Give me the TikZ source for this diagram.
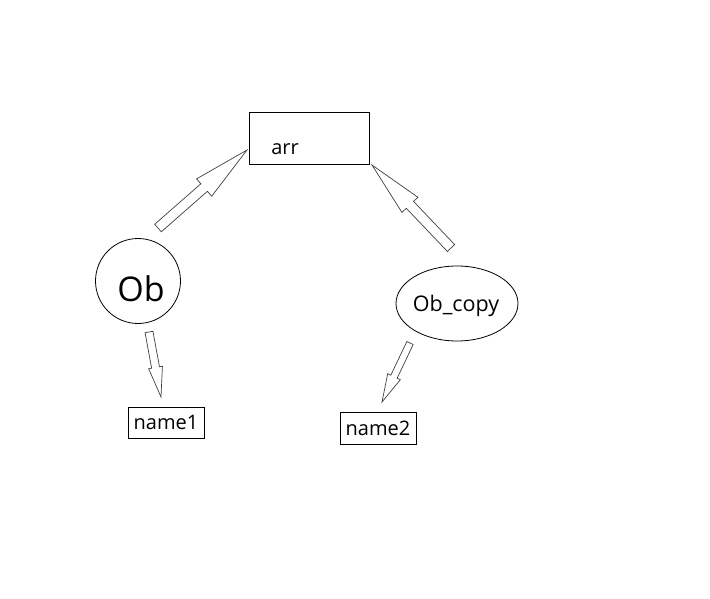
\documentclass[tikz,border=0pt]{standalone}
\usepackage{fontspec}
\setmainfont{Open Sans}
\usetikzlibrary{calc,shapes.geometric}

\tikzset{
	box/.style={draw, line width=0.8pt, inner sep=0pt},
	hollow/.style={draw=black!75, line width=0.7pt, line join=miter, fill=white},
	txt/.style={font=\fontsize{20}{24}\selectfont, inner sep=0pt},
}
% block arrow: tail, tip, half shaft, half head, head length
\newcommand{\blockarrow}[5]{%
	\coordinate (hb) at ($(#2)!#5!(#1)$);
	\draw[hollow] ($(#1)!#3!90:(#2)$) -- ($(hb)!#3!90:(#2)$) -- ($(hb)!#4!90:(#2)$) -- (#2)
		-- ($(hb)!#4!-90:(#2)$) -- ($(hb)!#3!-90:(#2)$) -- ($(#1)!#3!-90:(#2)$) -- cycle;
}

\begin{document}
\begin{tikzpicture}[x=1pt,y=-1pt]
		\useasboundingbox (0,0) rectangle (710,599);
		% objects
		\node[box, minimum width=120, minimum height=52] (arr) at (309,138) {};
		\node[txt] (arrtxt) at (285,149) {arr};
		\node[box, circle, minimum size=85] (ob) at (138,281) {};
		\node[txt, font=\fontsize{34}{40}\selectfont] (obtxt) at (141,289) {Ob};
		\node[box, ellipse, minimum width=122, minimum height=75] (obcopy) at (457,303.5) {};
		\node[txt, font=\fontsize{21.5}{26}\selectfont] (obcopytxt) at (456,306) {Ob\_copy};
		\node[box, minimum width=76, minimum height=31, txt] (name1) at (166,422.5) {name1};
		\node[box, minimum width=76, minimum height=32, txt] (name2) at (378,428) {name2};
		% arrow ends
		\coordinate (t1) at (158,228); \coordinate (h1) at (247,150);
		\coordinate (t2) at (451,248); \coordinate (h2) at (372,165);
		\coordinate (t3) at (149,332); \coordinate (h3) at (161,397);
		\coordinate (t4) at (410,343); \coordinate (h4) at (382,402);
		\blockarrow{t1}{h1}{5pt}{11.5pt}{57pt}
		\blockarrow{t2}{h2}{5pt}{11pt}{55pt}
		\blockarrow{t3}{h3}{4pt}{7pt}{30pt}
		\blockarrow{t4}{h4}{3.5pt}{7pt}{28pt}
\end{tikzpicture}
\end{document}
